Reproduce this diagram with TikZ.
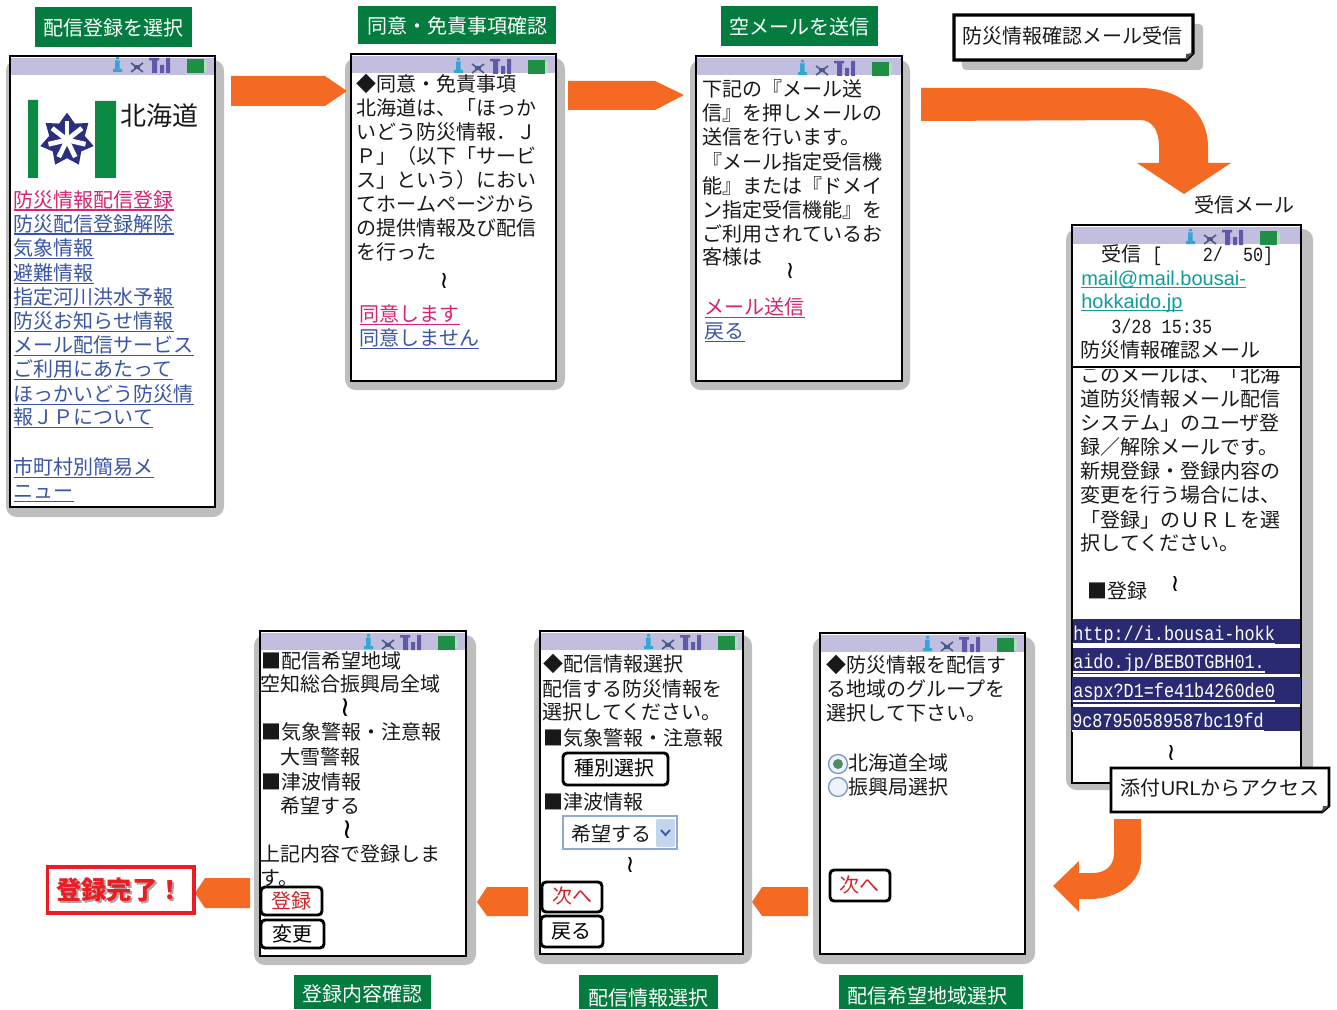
\documentclass[tikz,border=0pt]{standalone}
\usepackage{fontspec}
\usetikzlibrary{shapes.geometric}
\setmainfont{Noto Sans CJK JP}
\newfontfamily\latf{Liberation Sans}
\newfontfamily\monof[FakeStretch=0.84]{Liberation Mono}
\newfontfamily\symf{DejaVu Sans}
\definecolor{orangeA}{HTML}{F46A22}
\definecolor{greenL}{HTML}{057C3F}
\definecolor{shadowG}{HTML}{BEBEBE}
\definecolor{headL}{HTML}{C2BEDF}
\definecolor{pinkL}{HTML}{D6246E}
\definecolor{blueL}{HTML}{3A55A5}
\definecolor{tealL}{HTML}{0E9C9C}
\definecolor{navyB}{HTML}{2A2A72}
\definecolor{redT}{HTML}{D2232A}
\definecolor{redB}{HTML}{ED1C24}
\definecolor{logoG}{HTML}{0C8A43}
\definecolor{logoN}{HTML}{2B2F80}
\definecolor{iconI}{HTML}{35A5D5}
\definecolor{iconX}{HTML}{4A5A8A}
\definecolor{iconB}{HTML}{6058A8}
\definecolor{iconG}{HTML}{1F8F45}
\definecolor{iconL}{HTML}{B8DDBE}
\definecolor{ddBorder}{HTML}{8FAAD0}
\definecolor{ddFill}{HTML}{C5D5EE}
\definecolor{ddMark}{HTML}{3C5A90}
\definecolor{radioR}{HTML}{7A99C2}
\definecolor{radioF}{HTML}{EEF3FA}
\definecolor{radioC}{HTML}{4F8A6A}
\newcount\tcnt
\def\ulo{1.9pt}
\tikzset{
  x=0.75pt,y=-0.75pt,
  txt/.style={anchor=base west,inner sep=0pt,font=\fontsize{15}{15}\selectfont,text=black!90},
  barlabel/.style={text=white,inner sep=0pt,anchor=center,font=\fontsize{15}{15}\selectfont},
  arrowfill/.style={fill=orangeA,draw=none},
  btn/.style={draw=black,line width=2.2pt,rounded corners=3pt,fill=white},
}
\newcommand{\TL}[4][]{\global\advance\tcnt by 1
  \node[txt,#1] (t\the\tcnt) at (#2-0.5,#3+7.5) {#4};}
\newcommand{\LK}[5][]{\global\advance\tcnt by 1
  \node[txt,text=#2,#1] (t\the\tcnt) at (#3-0.5,#4+7.5) {#5};
  \draw[#2,line width=0.8pt] ([yshift=-\ulo]t\the\tcnt.base west) -- ([yshift=-\ulo]t\the\tcnt.base east);}
\newcommand{\WV}[3][18]{\global\advance\tcnt by 1
  \node[inner sep=0pt,text=black,font=\symf\fontsize{#1}{#1}\selectfont] (t\the\tcnt) at (#2,#3) {≀};}
\newcommand{\PHN}[7]{
  \fill[shadowG,rounded corners=8pt] (#5,#2+4) rectangle (#6,#7);
  \fill[white] (#1,#2) rectangle (#3,#4);
  \fill[headL] (#1,#2+2) rectangle (#3,#2+19);
  \draw[black,line width=2.2pt] (#1,#2) rectangle (#3,#4);
}
\newcommand{\STAT}[2]{
  \begin{scope}[shift={(#1,#2)}]
    \fill[iconI] (3,-1) rectangle (6,1.5) (2,2.5) rectangle (6.5,11) (0,11) rectangle (9,14);
    \draw[iconX,line width=1.2pt] (18,5) -- (30,14) (18,14) -- (30,5);
    \fill[iconX] (21,7.5) rectangle (27,11.5);
    \fill[iconB] (36,0) rectangle (46,2.5) (39,2.5) rectangle (44,15) (47,7) rectangle (51,15) (53,0) rectangle (57,15);
    \fill[iconG] (74,1) rectangle (91,15);
    \fill[iconL] (91,3) rectangle (94,13);
  \end{scope}
}
\newcommand{\BTN}[8]{
  \draw[btn] (#1,#2) rectangle (#3,#4);
  \TL[text=#5]{#6}{#7}{#8}
}
\begin{document}
\begin{tikzpicture}
\useasboundingbox (0,0) rectangle (1337,1009);
% ---- labels
\fill[greenL] (35,7) rectangle (192,47);
\node[barlabel] (lab1) at (113.5,28) {配信登録を選択};
\fill[greenL] (358,6) rectangle (556,44);
\node[barlabel] (lab2) at (457,25.5) {同意・免責事項確認};
\fill[greenL] (721,6) rectangle (878,46);
\node[barlabel] (lab3) at (799.5,26.5) {空メールを送信};
\fill[greenL] (294,975) rectangle (431,1009);
\node[barlabel] (lab4) at (362.5,993.5) {登録内容確認};
\fill[greenL] (579,975) rectangle (718,1009);
\node[barlabel] (lab5) at (648,997.5) {配信情報選択};
\fill[greenL] (839,975) rectangle (1023,1009);
\node[barlabel] (lab6) at (927.5,995.5) {配信希望地域選択};
% ---- phones
\PHN{10}{56}{215}{507}{6}{224}{517}
\STAT{113}{58}
\PHN{351}{54}{556}{381}{345}{565}{390}
\STAT{454}{59}
\PHN{696}{56}{902}{381}{690}{910}{390}
\STAT{798}{61}
\PHN{1072}{225}{1301}{783}{1066}{1313}{790}
\STAT{1186}{230}
\PHN{820}{633}{1025}{954}{813}{1035}{964}
\STAT{923}{637}
\PHN{540}{631}{743}{954}{534}{752}{964}
\STAT{644}{635}
\PHN{260}{631}{466}{956}{254}{476}{965}
\STAT{364}{635}
% ---- Hokkaido logo
\fill[logoG] (28,100) rectangle (38,178) (95,101) rectangle (116,178);
\node[star,star points=7,star point ratio=1.5,fill=logoN,minimum size=41pt,inner sep=0pt] (logoA) at (67,140) {};
\foreach \a in {90,141.43,192.86,244.29,295.71,347.14,398.57}
  \draw[white,line width=3.6pt] (67,140) -- ++({-\a}:19);
\node[txt,font=\fontsize{19.5}{19.5}\selectfont] (logoT) at (120,125.5) {北海道};
% ---- phone 1 text
\LK{pinkL}{14}{200}{防災情報配信登録}
\LK{blueL}{14}{224}{防災配信登録解除}
\LK{blueL}{14}{248}{気象情報}
\LK{blueL}{14}{273}{避難情報}
\LK{blueL}{14}{297}{指定河川洪水予報}
\LK{blueL}{14}{321}{防災お知らせ情報}
\LK{blueL}{14}{345}{メール配信サービス}
\LK{blueL}{14}{369}{ご利用にあたって}
\LK{blueL}{14}{394}{ほっかいどう防災情}
\LK{blueL}{14}{417}{報ＪＰについて}
\LK{blueL}{14}{467}{市町村別簡易メ}
\LK{blueL}{14}{491}{ニュー}
% ---- phone 2 text
\TL{357}{84}{◆同意・免責事項}
\TL{357}{108}{北海道は、「ほっか}
\TL{357}{132}{いどう防災情報．Ｊ}
\TL{357}{156}{Ｐ」（以下「サービ}
\TL{357}{180}{ス」という）におい}
\TL{357}{204}{てホームページから}
\TL{357}{228}{の提供情報及び配信}
\TL{357}{252}{を行った}
\WV{444}{281}
\LK{pinkL}{360}{314}{同意します}
\LK{blueL}{360}{338}{同意しません}
% ---- phone 3 text
\TL{703}{89}{下記の『メール送}
\TL{703}{113}{信』を押しメールの}
\TL{703}{137}{送信を行います。}
\TL{703}{162}{『メール指定受信機}
\TL{703}{186}{能』または『ドメイ}
\TL{703}{210}{ン指定受信機能』を}
\TL{703}{234}{ご利用されているお}
\TL{703}{257}{客様は}
\WV{790}{271}
\LK{pinkL}{705}{307}{メール送信}
\LK{blueL}{705}{331}{戻る}
% ---- phone 4 text
\TL{1102}{254}{受信}
\TL[font=\monof\fontsize{15}{15}\selectfont]{1142.5}{253.5}{~[~~~~2/~~50]}
\LK[font=\latf\fontsize{15}{15}\selectfont]{tealL}{1081.5}{277.5}{mail@mail.bousai-}
\LK[font=\latf\fontsize{15}{15}\selectfont]{tealL}{1081.5}{300.5}{hokkaido.jp}
\TL[font=\monof\fontsize{15}{15}\selectfont]{1111.5}{325.5}{3/28~15:35}
\TL{1081}{350}{防災情報確認メール}
\TL{1081}{375}{このメールは、「北海}
\fill[white] (1074,365) rectangle (1299,369);
\draw[black,line width=2.2pt] (1072,367) -- (1301,367);
\TL{1081}{399}{道防災情報メール配信}
\TL{1081}{423}{システム」のユーザ登}
\TL{1081}{447}{録／解除メールです。}
\TL{1081}{471}{新規登録・登録内容の}
\TL{1081}{495}{変更を行う場合には、}
\TL{1081}{520}{「登録」のＵＲＬを選}
\TL{1081}{543}{択してください。}
\TL{1088}{591}{■登録}
\WV{1175}{584}
\fill[navyB] (1073,619) rectangle (1300,644);
\fill[navyB] (1073,648) rectangle (1300,674);
\fill[navyB] (1072,677) rectangle (1301,704);
\fill[navyB] (1071,707) rectangle (1300,731);
\def\ulo{3pt}
\LK[font=\monof\fontsize{15}{15}\selectfont]{white}{1073.5}{632.5}{http://i.bousai-hokk}
\LK[font=\monof\fontsize{15}{15}\selectfont]{white}{1073.5}{660.5}{aido.jp/BEBOTGBH01.}
\LK[font=\monof\fontsize{15}{15}\selectfont]{white}{1073.5}{689.5}{aspx?D1=fe41b4260de0}
\LK[font=\monof\fontsize{15}{15}\selectfont]{white}{1072.5}{719.5}{9c87950589587bc19fd}
\WV{1171}{753}
\TL{1195}{205}{受信メール}
% ---- phone 5 text
\TL{827}{665}{◆防災情報を配信す}
\TL{827}{689}{る地域のグループを}
\TL{827}{713}{選択して下さい。}
\draw[radioR,line width=1pt,fill=radioF] (838,764) circle (9.5);
\fill[radioC] (838,764) circle (5);
\draw[radioR,line width=1pt,fill=radioF] (838,787) circle (9.5);
\TL{849}{763}{北海道全域}
\TL{849}{787}{振興局選択}
\BTN{830}{870}{890}{901}{redT}{840}{885}{次へ}
% ---- phone 6 text
\TL{544}{664}{◆配信情報選択}
\TL{543}{689}{配信する防災情報を}
\TL{543}{712}{選択してください。}
\TL{544}{738}{■気象警報・注意報}
\BTN{563}{753}{668}{785}{black}{575}{768}{種別選択}
\TL{544}{802}{■津波情報}
\draw[ddBorder,line width=1pt,fill=white] (563,816) rectangle (677,849);
\fill[ddFill,rounded corners=1.5pt] (656,819) rectangle (675,847);
\draw[ddMark,line width=1.4pt] (661,830) -- (665.5,835) -- (670,830);
\TL{572}{834}{希望する}
\WV{630}{865}
\BTN{542}{882}{602}{912}{redT}{553}{896}{次へ}
\BTN{541}{916}{603}{947}{black}{552}{931}{戻る}
% ---- phone 7 text
\TL{262}{661}{■配信希望地域}
\TL{261}{684}{空知総合振興局全域}
\WV[21]{345}{708}
\TL{262}{732}{■気象警報・注意報}
\TL{281}{757}{大雪警報}
\TL{262}{782}{■津波情報}
\TL{281}{806}{希望する}
\WV[21]{347}{830}
\TL{261}{854}{上記内容で登録しま}
\TL{261}{878}{す。}
\BTN{261}{887}{322}{915}{redT}{272}{901}{登録}
\BTN{261}{920}{324}{948}{black}{273}{934}{変更}
% ---- callouts
\fill[shadowG,rounded corners=3pt] (962,24) rectangle (1203,70);
\draw[black,line width=2.4pt,fill=white] (954,15) -- (1193,15) -- (1193,53) -- (1186,60) -- (954,60) -- cycle;
\fill[black!70] (1193,53) -- (1186,60) -- (1186,54) -- cycle;
\TL{963}{36}{防災情報確認メール受信}
\draw[black,line width=2pt,fill=white] (1111,768) -- (1329,768) -- (1329,806) -- (1322,812) -- (1111,812) -- cycle;
\fill[black!70] (1329,806) -- (1322,812) -- (1323,806) -- cycle;
\TL{1121}{788}{添付{\latf URL}からアクセス}
% ---- arrows
\fill[arrowfill] (231,76) -- (325,76) -- (347,91) -- (325,106) -- (231,106) -- cycle;
\fill[arrowfill] (568,81) -- (655,81) -- (684,95) -- (655,110) -- (568,110) -- cycle;
\fill[arrowfill] (921,88) -- (1140,88) .. controls (1180,88) and (1208,112) .. (1208,147) -- (1208,163) -- (1231,163) -- (1184,194) -- (1137,163) -- (1159,163) -- (1159,147) .. controls (1159,130) and (1152,120) .. (1140,120) -- (921,121) -- cycle;
\fill[arrowfill] (1114,819) -- (1141,819) -- (1141,860) .. controls (1141,882) and (1118,899) .. (1090,899) -- (1079,899) -- (1079,912) -- (1053,886) -- (1079,861) -- (1079,873) -- (1093,873) .. controls (1105,873) and (1114,866) .. (1114,853) -- cycle;
\fill[arrowfill] (752,902) -- (762,887) -- (808,887) -- (808,916) -- (762,916) -- cycle;
\fill[arrowfill] (477,902) -- (487,887) -- (528,887) -- (528,916) -- (487,916) -- cycle;
\fill[arrowfill] (195,893) -- (205,878) -- (250,878) -- (250,908) -- (205,908) -- cycle;
% ---- done box
\draw[redB,line width=2.7pt,fill=white] (47.5,867) rectangle (194,913);
\node[txt,text=black!35,font=\bfseries\fontsize{19}{19}\selectfont] (doneS) at (58,901.5) {登録完了！};
\node[txt,text=redB,font=\bfseries\fontsize{19}{19}\selectfont] (done) at (56,899.5) {登録完了！};
\end{tikzpicture}
\end{document}
